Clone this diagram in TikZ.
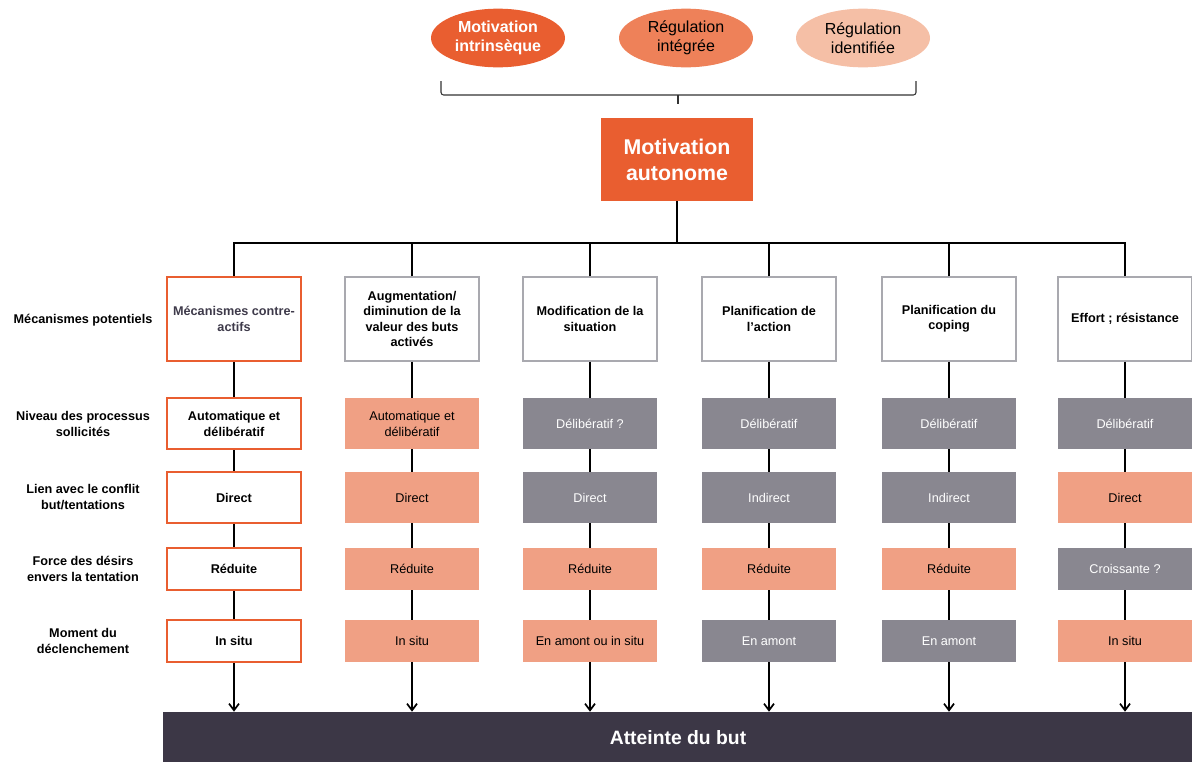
\documentclass[tikz,border=0pt]{standalone}
\usepackage{fontspec}
\setmainfont{Liberation Sans}
\usepackage{xcolor}
\usetikzlibrary{arrows.meta,shapes.geometric}
\definecolor{darkorange}{HTML}{E95E30}
\definecolor{midorange}{HTML}{EE8159}
\definecolor{lightorange}{HTML}{F5BFA6}
\definecolor{salmon}{HTML}{F0A084}
\definecolor{slate}{HTML}{898790}
\definecolor{darkbar}{HTML}{3C3746}
\definecolor{boxgray}{HTML}{A9A9AF}
\definecolor{inkgray}{HTML}{3E3A4A}

\begin{document}
\begin{tikzpicture}[
      x=0.75pt, y=-0.75pt,
      myellipse/.style={
         ellipse,
         inner sep=0pt,
         minimum width=100.5pt,
         minimum height=44pt,
         align=center,
         font=\fontsize{12}{14}\selectfont},
      mybox/.style={
         rectangle,
         inner sep=1pt,
         minimum width=100.5pt,
         align=center,
         font=\fontsize{9.5}{12}\selectfont},
      headbox/.style={mybox, draw=boxgray, line width=0.9pt, minimum height=63pt, font=\fontsize{9.5}{11.4}\selectfont\bfseries},
      cellwhite/.style={mybox, draw=darkorange, line width=1.6pt, fill=white, font=\fontsize{9.5}{12}\selectfont\bfseries},
      cellsalmon/.style={mybox, fill=salmon, text=black},
      cellgray/.style={mybox, fill=slate, text=white},
      rowlabel/.style={align=center, font=\fontsize{9.5}{12}\selectfont\bfseries},
      link/.style={line width=1.3pt, draw=black},
      myarrow/.style={link, -{Straight Barb[length=5pt,width=7.5pt]}}
      ]
      \useasboundingbox (0,0) rectangle (1192,761);
      \clip (0,0) rectangle (1192,761);

      % the three forms of regulation
      \node[myellipse, fill=darkorange, text=white, font=\fontsize{12}{14}\selectfont\bfseries] (e1) at (498,38) {Motivation\\intrinsèque};
      \node[myellipse, fill=midorange] (e2) at (686,38) {Régulation\\intégrée};
      \node[myellipse, fill=lightorange] (e3) at (863,38) {Régulation\\identifiée};

      \coordinate (bl) at (441,81);
      \coordinate (br) at (916,81);
      \coordinate (bm) at (678,95);
      \draw[line width=0.8pt, black!80, rounded corners=2pt] (bl) -- (bl |- bm) -- (br |- bm) -- (br);
      \draw[line width=0.8pt, black!80] (bm) -- ++(0,9);

      \node[rectangle, fill=darkorange, text=white, minimum width=114pt, minimum height=62pt,
            align=center, font=\fontsize{16}{19.5}\selectfont\bfseries] (mot) at (677,159.5) {Motivation\\autonome};

      % row labels
      \node[rowlabel] (l1) at (83,320) {Mécanismes potentiels};
      \node[rowlabel] (l2) at (83,423.5) {Niveau des processus\\sollicités};
      \node[rowlabel] (l3) at (83,497.5) {Lien avec le conflit\\but/tentations};
      \node[rowlabel] (l4) at (83,569) {Force des désirs\\envers la tentation};
      \node[rowlabel] (l5) at (83,641) {Moment du\\déclenchement};

      % potential mechanisms
      \node[headbox, draw=darkorange, line width=1.6pt, text=inkgray] (h1) at (234,319) {Mécanismes contre-\\actifs};
      \foreach \c/\x/\txt in {%
        2/412/{Augmentation/\\diminution de la\\valeur des buts\\activés},
        3/590/{Modification de la\\situation},
        4/769/{Planification de\\l’action},
        5/949/{Planification du\\coping},
        6/1125/{Effort ; résistance}}
         \node[headbox] (h\c) at (\x,319) {\txt};

      % niveau des processus
      \foreach \c/\x/\s/\txt in {%
        1/234/cellwhite/{Automatique et\\délibératif},
        2/412/cellsalmon/{Automatique et\\délibératif},
        3/590/cellgray/{Délibératif ?},
        4/769/cellgray/{Délibératif},
        5/949/cellgray/{Délibératif},
        6/1125/cellgray/{Délibératif}}
         \node[\s, minimum height=38.25pt] (n2\c) at (\x,423.5) {\txt};

      % lien avec le conflit
      \foreach \c/\x/\s/\txt in {%
        1/234/cellwhite/{Direct},
        2/412/cellsalmon/{Direct},
        3/590/cellgray/{Direct},
        4/769/cellgray/{Indirect},
        5/949/cellgray/{Indirect},
        6/1125/cellsalmon/{Direct}}
         \node[\s, minimum height=38.25pt] (n3\c) at (\x,497.5) {\txt};

      % force des desirs
      \foreach \c/\x/\s/\txt in {%
        1/234/cellwhite/{Réduite},
        2/412/cellsalmon/{Réduite},
        3/590/cellsalmon/{Réduite},
        4/769/cellsalmon/{Réduite},
        5/949/cellsalmon/{Réduite},
        6/1125/cellgray/{Croissante ?}}
         \node[\s, minimum height=31.5pt] (n4\c) at (\x,569) {\txt};

      % moment du declenchement
      \foreach \c/\x/\s/\txt in {%
        1/234/cellwhite/{In situ},
        2/412/cellsalmon/{In situ},
        3/590/cellsalmon/{En amont ou in situ},
        4/769/cellgray/{En amont},
        5/949/cellgray/{En amont},
        6/1125/cellsalmon/{In situ}}
         \node[\s, minimum height=31.5pt] (n5\c) at (\x,641) {\txt};

      \node[rectangle, fill=darkbar, text=white, minimum width=772.5pt, minimum height=39pt,
            font=\fontsize{14.5}{17}\selectfont\bfseries] (goal) at (678,738) {Atteinte du but};

      % connectors
      \coordinate (bus) at (677,243);
      \draw[link] (mot) -- (bus);
      \foreach \c in {1,...,6} {
         \draw[link] (h\c.north) |- (bus);
         \draw[link] (h\c) -- (n2\c);
         \draw[link] (n2\c) -- (n3\c);
         \draw[link] (n3\c) -- (n4\c);
         \draw[link] (n4\c) -- (n5\c);
         \draw[myarrow] (n5\c.south) -- (n5\c.south |- goal.north);
      }
\end{tikzpicture}
\end{document}
